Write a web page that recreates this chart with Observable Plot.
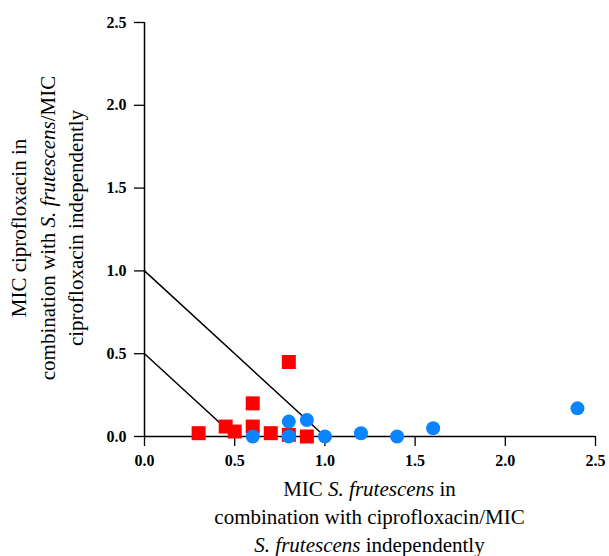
<!DOCTYPE html>
<html>
<head>
<meta charset="utf-8">
<script src="https://cdn.jsdelivr.net/npm/d3@7"></script>
<script src="https://cdn.jsdelivr.net/npm/@observablehq/plot@0.6"></script>
<style>
  html, body { margin: 0; padding: 0; background: #fff; }
  #chart svg { display: block; }
</style>
</head>
<body>
<div id="chart"></div>
<script>
// Data
const xTicks = [0, 0.5, 1.0, 1.5, 2.0, 2.5];
const yTicks = [0, 0.5, 1.0, 1.5, 2.0, 2.5];

const squaresX = [0.30, 0.45, 0.50, 0.60, 0.60, 0.70, 0.80, 0.80, 0.90];
const squaresY = [0.02, 0.06, 0.03, 0.20, 0.06, 0.02, 0.01, 0.45, 0.00];

const circlesX = [0.60, 0.80, 0.80, 0.90, 1.00, 1.20, 1.40, 1.60, 2.40];
const circlesY = [0.00, 0.09, 0.00, 0.10, 0.00, 0.02, 0.00, 0.05, 0.17];

const lineOuterX = [0, 1];
const lineOuterY = [1, 0];
const lineInnerX = [0, 0.5];
const lineInnerY = [0.5, 0];

const xLabelLines = [
  [{t: "MIC "}, {t: "S. frutescens", i: true}, {t: " in"}],
  [{t: "combination with ciprofloxacin/MIC"}],
  [{t: "S. frutescens", i: true}, {t: " independently"}]
];
const yLabelLines = [
  [{t: "MIC ciprofloxacin in"}],
  [{t: "combination with "}, {t: "S. frutescens", i: true}, {t: "/MIC"}],
  [{t: "ciprofloxacin independently"}]
];

const squares = squaresX.map((x, k) => ({x, y: squaresY[k]}));
const circles = circlesX.map((x, k) => ({x, y: circlesY[k]}));
const lineOuter = lineOuterX.map((x, k) => ({x, y: lineOuterY[k]}));
const lineInner = lineInnerX.map((x, k) => ({x, y: lineInnerY[k]}));

const W = 609, H = 556;
const mL = 144, mR = 14, mT = 22, mB = 120;
const fmt = d3.format(".1f");
const FONT = "'Liberation Serif', 'Times New Roman', serif";

const svg = Plot.plot({
  width: W,
  height: H,
  marginLeft: mL,
  marginRight: mR,
  marginTop: mT,
  marginBottom: mB,
  style: {fontFamily: FONT, background: "#fff", color: "#000"},
  x: {domain: [0, 2.5], ticks: xTicks},
  y: {domain: [0, 2.5], ticks: yTicks},
  marks: [
    Plot.axisX({ticks: xTicks, tickFormat: fmt, tickSize: 10, tickPadding: 8, fontSize: 16, fontWeight: "bold", label: null, strokeWidth: 1.3}),
    Plot.axisY({ticks: yTicks, tickFormat: fmt, tickSize: 10, tickPadding: 8, fontSize: 16, fontWeight: "bold", label: null, strokeWidth: 1.3}),
    Plot.ruleY([0], {stroke: "#000", strokeWidth: 1.5}),
    Plot.ruleX([0], {stroke: "#000", strokeWidth: 1.5}),
    Plot.line(lineOuter, {x: "x", y: "y", stroke: "#000", strokeWidth: 1.5}),
    Plot.line(lineInner, {x: "x", y: "y", stroke: "#000", strokeWidth: 1.5}),
    Plot.dot(squares, {x: "x", y: "y", symbol: "square", r: 7.9, fill: "#ff0000", stroke: null}),
    Plot.dot(circles, {x: "x", y: "y", symbol: "circle", r: 7, fill: "#0a84ff", stroke: null})
  ]
});

const root = d3.select(svg);
function addLine(g, parts, attrs) {
  const t = g.append("text")
    .attr("font-family", FONT)
    .attr("font-size", 21)
    .attr("fill", "#000")
    .attr("text-anchor", "middle");
  Object.entries(attrs).forEach(([k, v]) => t.attr(k, v));
  parts.forEach(p => {
    const s = t.append("tspan").text(p.t);
    if (p.i) s.attr("font-style", "italic");
  });
}
const cx = (mL + (W - mR)) / 2;
const xBase = [496, 524, 552];
xLabelLines.forEach((parts, k) => addLine(root, parts, {x: cx, y: xBase[k]}));

const cy = 228;
const yBase = [26, 54.5, 83];
yLabelLines.forEach((parts, k) => addLine(root, parts, {transform: `translate(${yBase[k]},${cy}) rotate(-90)`}));

document.getElementById("chart").appendChild(svg);
</script>
</body>
</html>
